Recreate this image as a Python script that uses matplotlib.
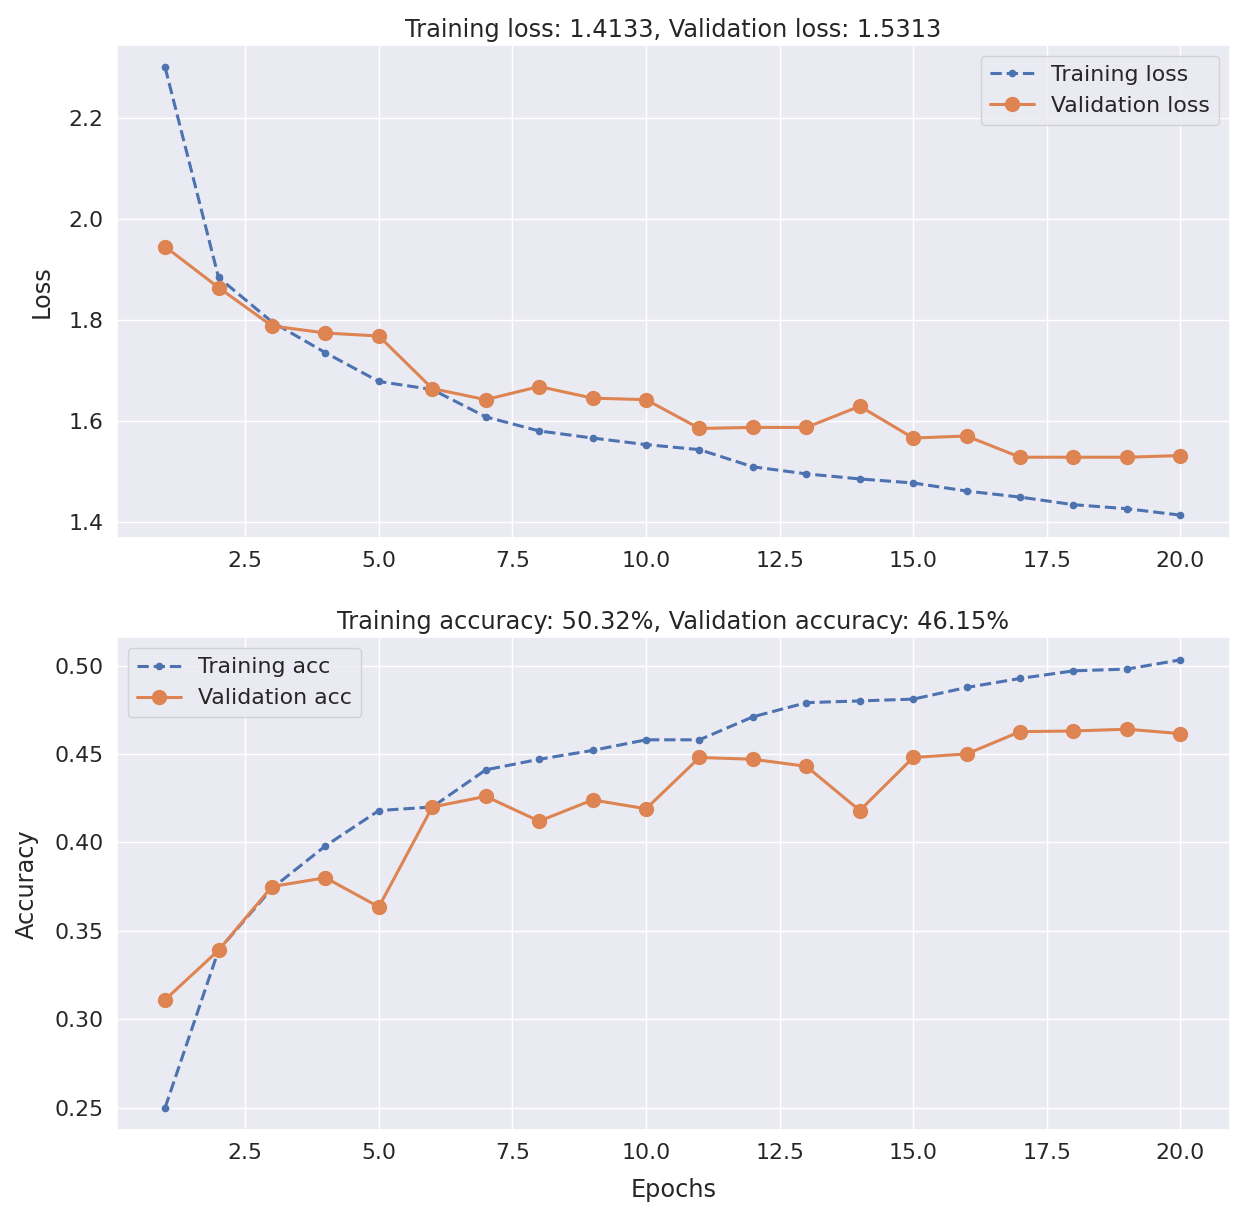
import matplotlib
matplotlib.use("Agg")
import matplotlib.pyplot as plt
import seaborn as sns

sns.set_theme(font_scale=1.44)

epochs = list(range(1, 21))
train_loss = [2.300, 1.884, 1.796, 1.735, 1.678, 1.662, 1.608, 1.580, 1.566, 1.553,
              1.543, 1.509, 1.495, 1.485, 1.477, 1.461, 1.449, 1.434, 1.426, 1.4133]
val_loss = [1.945, 1.864, 1.788, 1.774, 1.768, 1.664, 1.642, 1.668, 1.645, 1.642,
            1.585, 1.587, 1.587, 1.629, 1.566, 1.570, 1.528, 1.528, 1.528, 1.5313]
train_acc = [0.250, 0.339, 0.374, 0.398, 0.418, 0.420, 0.441, 0.447, 0.452, 0.458,
             0.458, 0.471, 0.479, 0.480, 0.481, 0.4876, 0.4927, 0.497, 0.498, 0.5032]
val_acc = [0.311, 0.339, 0.375, 0.380, 0.3635, 0.420, 0.426, 0.412, 0.424, 0.419,
           0.448, 0.447, 0.443, 0.418, 0.448, 0.450, 0.4626, 0.463, 0.464, 0.4615]

fig, (ax1, ax2) = plt.subplots(2, 1, figsize=(12.45, 12.17), dpi=100)
fig.subplots_adjust(left=0.094, right=0.988, top=0.963, bottom=0.0715, hspace=0.203)

# loss
ax1.plot(epochs, train_loss, "--", marker=".", markersize=9, linewidth=2.2, label="Training loss")
ax1.plot(epochs, val_loss, "-", marker="o", markersize=10, linewidth=2.2, label="Validation loss")
ax1.set_title(f"Training loss: {train_loss[-1]:.4f}, Validation loss: {val_loss[-1]:.4f}")
ax1.set_ylabel("Loss", labelpad=11)
ax1.legend(loc="upper right")

# accuracy
ax2.plot(epochs, train_acc, "--", marker=".", markersize=9, linewidth=2.2, label="Training acc")
ax2.plot(epochs, val_acc, "-", marker="o", markersize=10, linewidth=2.2, label="Validation acc")
ax2.set_title(f"Training accuracy: {train_acc[-1]*100:.2f}%, Validation accuracy: {val_acc[-1]*100:.2f}%")
ax2.set_ylabel("Accuracy", labelpad=11)
ax2.set_xlabel("Epochs", labelpad=11)
ax2.legend(loc="upper left")

for ax in (ax1, ax2):
    ax.set_xlim(0.1, 20.93)

fig.savefig("out.png", dpi=100)
